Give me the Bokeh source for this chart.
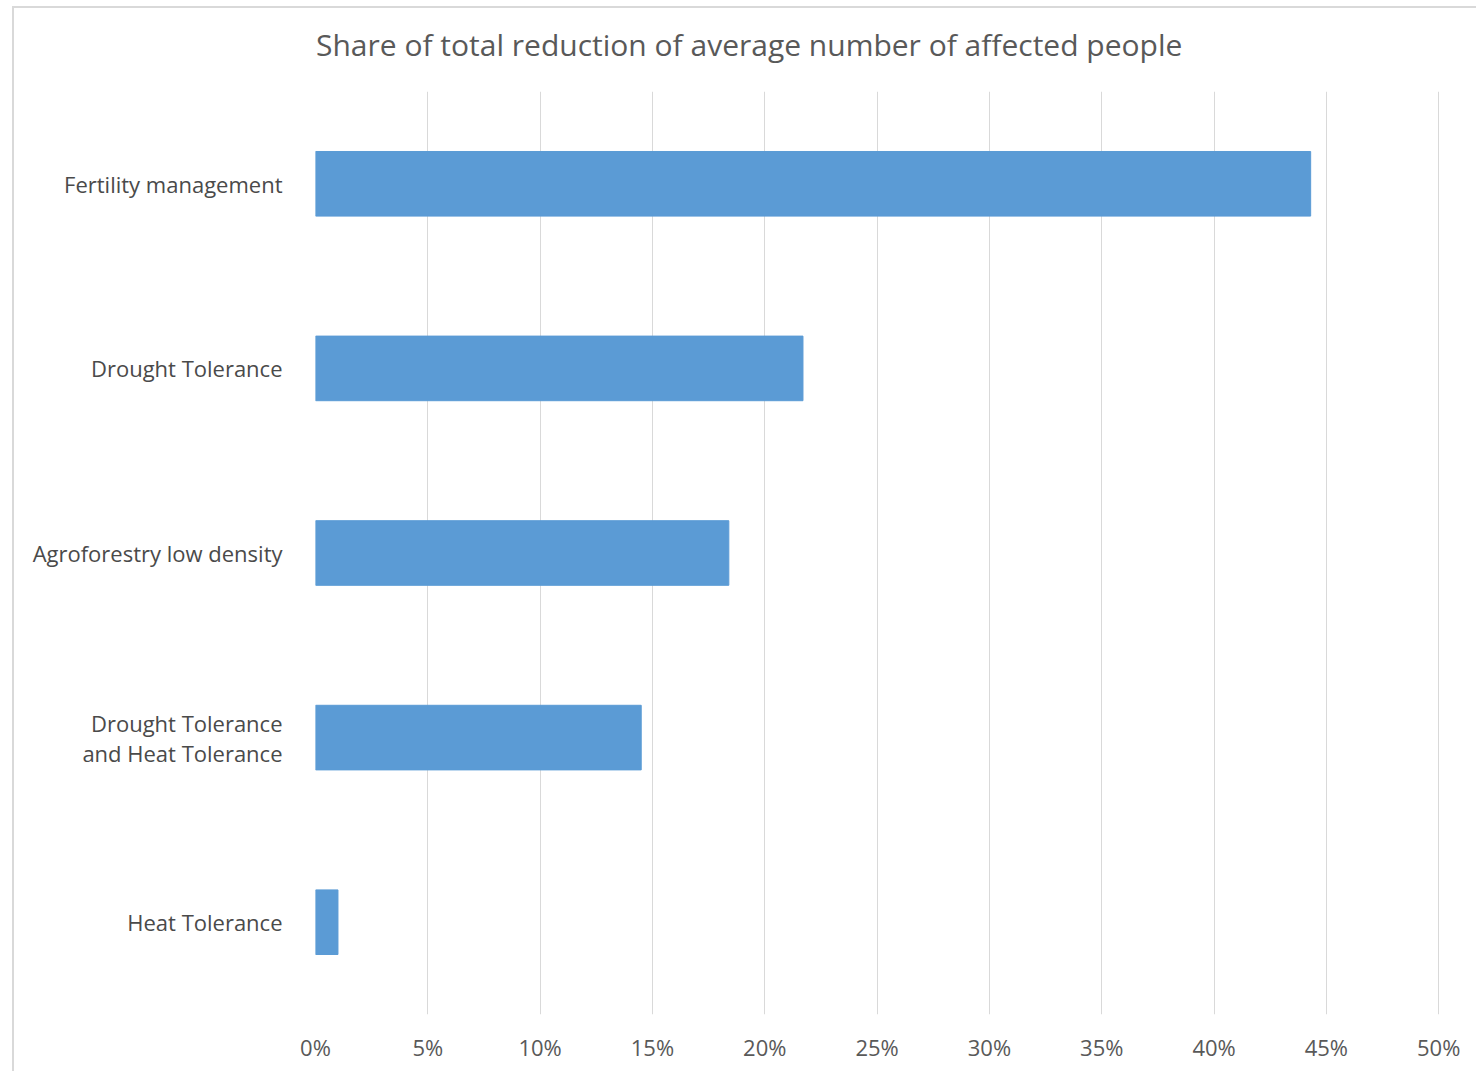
from bokeh.plotting import figure
from bokeh.embed import file_html
from bokeh.resources import INLINE
from bokeh.layouts import column
from bokeh.models import NumeralTickFormatter, FixedTicker, ColumnDataSource, Div

categories = ["Fertility management", "Drought Tolerance", "Agroforestry low density",
              "Drought Tolerance\nand Heat Tolerance", "Heat Tolerance"]
values = [0.443, 0.217, 0.184, 0.145, 0.010]
x_ticks = [0, 0.05, 0.10, 0.15, 0.20, 0.25, 0.30, 0.35, 0.40, 0.45, 0.50]
title_text = "Share of total reduction of average number of affected people"

FONT = "Open Sans"
GREY = "#595959"

src = ColumnDataSource(data=dict(cat=categories, val=values))

title_div = Div(
    text=f'<div style="font-family:\'Open Sans\';font-size:30px;line-height:40px;'
         f'color:{GREY};padding-left:302px;padding-top:17px;white-space:nowrap;">{title_text}</div>',
    width=1462, height=60, margin=0)

p = figure(y_range=list(reversed(categories)), x_range=(0, 0.5008),
           width=1462, height=1003, output_backend="svg", toolbar_location=None,
           min_border_left=301, min_border_right=36, min_border_top=23, min_border_bottom=57,
           margin=0)

p.hbar(y="cat", right="val", left=0, height=0.35, color="#5b9bd5", source=src)

p.xaxis.ticker = FixedTicker(ticks=x_ticks)
p.xaxis.formatter = NumeralTickFormatter(format="0%")
p.xaxis.axis_line_color = None
p.xaxis.major_tick_line_color = None
p.xaxis.minor_tick_line_color = None
p.xaxis.major_label_text_font = FONT
p.xaxis.major_label_text_font_size = "22px"
p.xaxis.major_label_text_color = GREY
p.xaxis.major_label_standoff = 11

p.yaxis.axis_line_color = None
p.yaxis.major_tick_line_color = None
p.yaxis.major_label_text_font = FONT
p.yaxis.major_label_text_font_size = "22px"
p.yaxis.major_label_text_color = "#4a4a4a"
p.yaxis.major_label_text_line_height = 1.0
p.yaxis.major_label_standoff = 27

p.xgrid.grid_line_color = "#d9d9d9"
p.xgrid.grid_line_width = 1
p.ygrid.grid_line_color = None
p.outline_line_color = None

layout = column(title_div, p, spacing=0)
layout.margin = (6, 0, 0, 12)
layout.styles = {"border-left": "2px solid #d9d9d9", "border-top": "2px solid #d9d9d9"}

open("out.html", "w").write(file_html(layout, INLINE))
